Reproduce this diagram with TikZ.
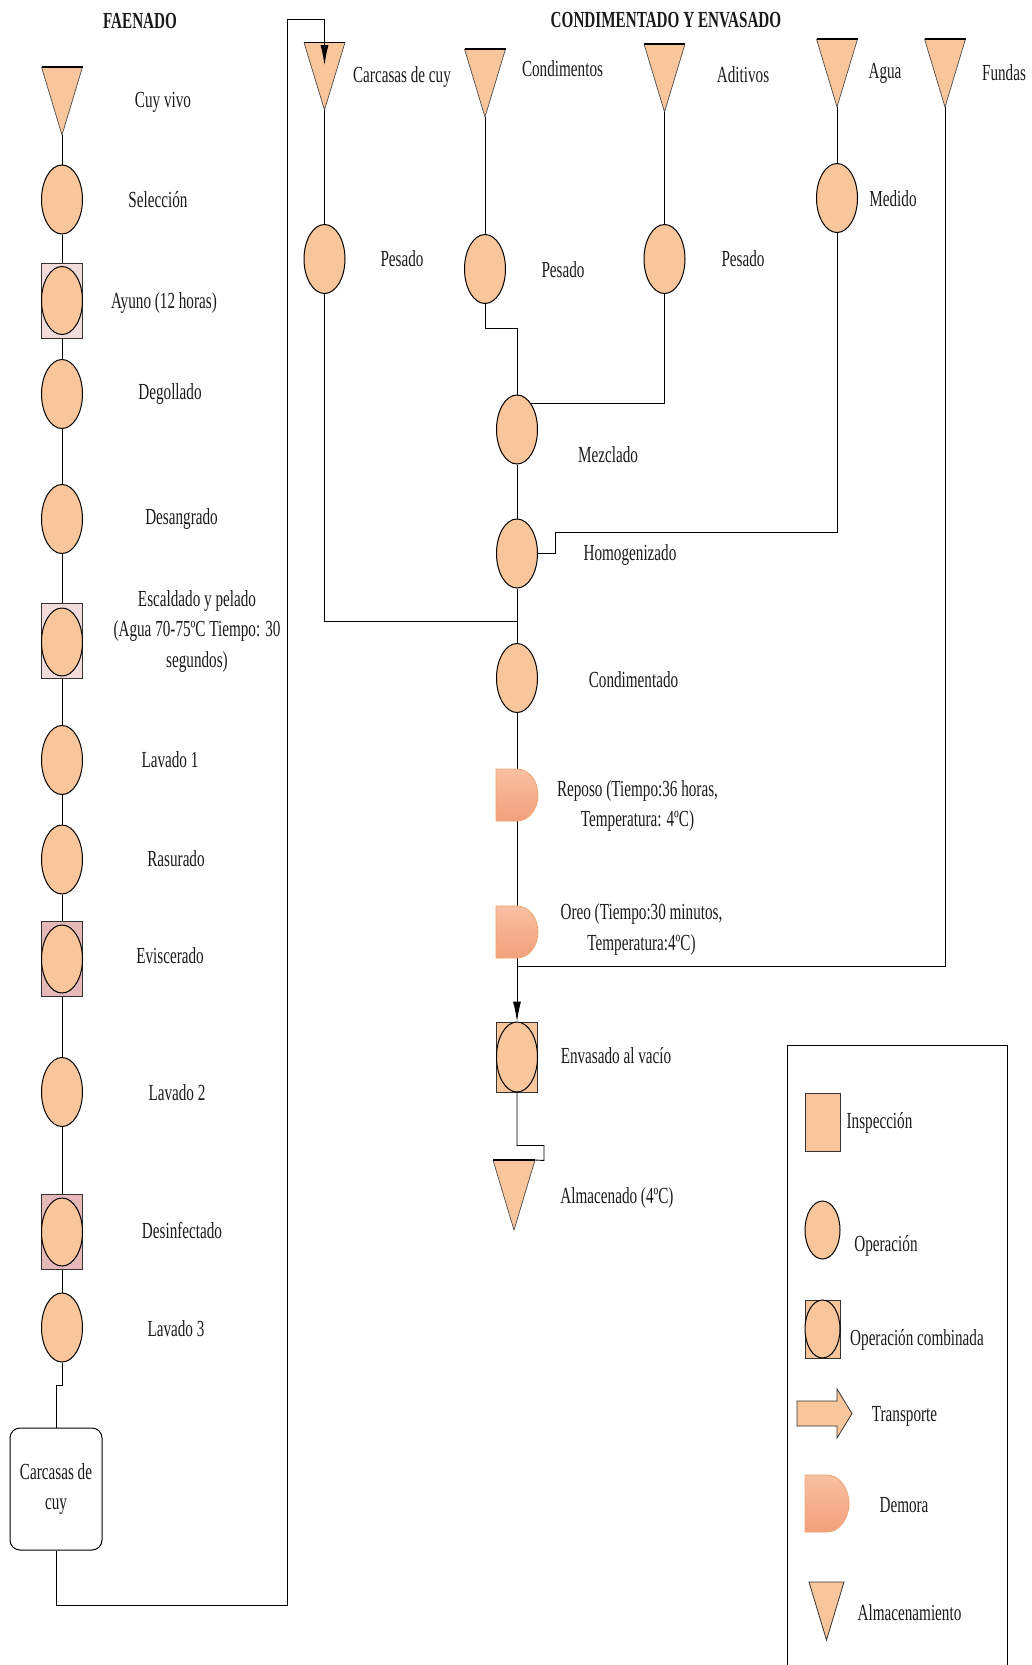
\documentclass[tikz,border=0pt]{standalone}
\usepackage{fontspec}
\setmainfont[FakeStretch=0.66]{Liberation Serif}
\usetikzlibrary{shapes.geometric,arrows.meta}
\definecolor{sal}{HTML}{F9C59A}
\definecolor{pinkA}{HTML}{F2DCDB}
\definecolor{pinkB}{HTML}{E6B8B7}
\definecolor{dtop}{HTML}{F7C0A2}
\definecolor{dbot}{HTML}{F3A07C}
\definecolor{dedge}{HTML}{F0A46E}
\definecolor{txt}{HTML}{1A1A1A}
\tikzset{
 op/.style={ellipse, draw=black, line width=1pt, fill=sal, minimum width=41pt, minimum height=69pt, inner sep=0pt},
 opin/.style={ellipse, draw=black, line width=1pt, fill=sal, minimum width=41pt, minimum height=68pt, inner sep=0pt},
 combo/.style={rectangle, draw=black!80, line width=0.9pt, minimum width=41pt, minimum height=75pt, inner sep=0pt},
 lbl/.style={text=txt, font=\fontsize{23}{30.5}\selectfont, inner sep=0pt, align=center},
 ttl/.style={text=txt, font=\fontsize{23}{28}\selectfont\bfseries, inner sep=0pt},
 conn/.style={draw=black, line width=0.9pt},
 arr/.style={conn, -{Latex[length=20pt,width=8pt]}},
 delayshape/.style={draw=dedge, line width=0.8pt, top color=dtop, bottom color=dbot},
 legrect/.style={rectangle, draw=black!80, line width=0.9pt, fill=sal, minimum width=35pt, minimum height=58pt, inner sep=0pt},
 legell/.style={ellipse, draw=black, line width=1pt, fill=sal, minimum width=35pt, minimum height=58pt, inner sep=0pt},
}
% name, cx, top, tip, halfwidth
\newcommand\mytri[5]{%
 \fill[sal] (#2-#5,#3) -- (#2+#5,#3) -- (#2,#4) -- cycle;
 \draw[black!70, line width=0.7pt] (#2-#5,#3) -- (#2,#4) -- (#2+#5,#3);
 \draw[black, line width=1.6pt] (#2-#5,#3) -- (#2+#5,#3);
 \coordinate (#1-tip) at (#2,#4);
 \coordinate (#1-top) at (#2,#3);
}
% left x, top  (42 wide, 52 high)
\newcommand\mydelay[2]{%
 \path[delayshape] (#1,#2) -- (#1+21,#2) .. controls (#1+32.6,#2) and (#1+42,#2+11.6) .. (#1+42,#2+26)
   .. controls (#1+42,#2+40.4) and (#1+32.6,#2+52) .. (#1+21,#2+52) -- (#1,#2+52) -- cycle;
}
\begin{document}
\begin{tikzpicture}[x=1pt,y=-1pt]
\useasboundingbox (0,0) rectangle (1031,1665);

% ---------- titles
\node[ttl] (t1) at (140,21) {FAENADO};
\node[ttl] (t2) at (666,20) {CONDIMENTADO Y ENVASADO};

% ---------- left column
\mytri{cuy}{62}{67}{135}{20.5}
\node[op] (sel) at (62,199.5) {};
\node[combo, fill=pinkA] (ayu) at (62,300.5) {};
\node[opin] (ayuE) at (62,300.5) {};
\node[op] (deg) at (62,394) {};
\node[op] (des) at (62,519) {};
\node[combo, fill=pinkA] (esc) at (62,641) {};
\node[opin] (escE) at (62,642) {};
\node[op] (lav1) at (62,760) {};
\node[op] (ras) at (62,859.5) {};
\node[combo, fill=pinkB] (evi) at (62,959) {};
\node[opin] (eviE) at (62,959) {};
\node[op] (lav2) at (62,1092) {};
\node[combo, fill=pinkB] (dsf) at (62,1232) {};
\node[opin] (dsfE) at (62,1232) {};
\node[op] (lav3) at (62,1327.5) {};
\node[lbl, draw=black, line width=1pt, rounded corners=10pt, minimum width=92pt, minimum height=122pt, fill=white] (box) at (56,1489) {Carcasas de\\cuy};

\node[lbl] (lcuy) at (163,102) {Cuy vivo};
\node[lbl] (lsel) at (158,200) {Selección};
\node[lbl] (layu) at (164,303) {Ayuno (12 horas)};
\node[lbl] (ldeg) at (170,394) {Degollado};
\node[lbl] (ldes) at (181.5,519) {Desangrado};
\node[lbl] (lesc) at (197,631) {Escaldado y pelado\\(Agua 70-75ºC Tiempo: 30\\segundos)};
\node[lbl] (llav1) at (170,760) {Lavado 1};
\node[lbl] (lras) at (176,859) {Rasurado};
\node[lbl] (levi) at (170,956) {Eviscerado};
\node[lbl] (llav2) at (177,1093) {Lavado 2};
\node[lbl] (ldsf) at (182,1230) {Desinfectado};
\node[lbl] (llav3) at (176,1329) {Lavado 3};

\draw[conn] (cuy-tip) -- (sel.north);
\draw[conn] (sel.south) -- (ayu.north);
\draw[conn] (ayu.south) -- (deg.north);
\draw[conn] (deg.south) -- (des.north);
\draw[conn] (des.south) -- (esc.north);
\draw[conn] (esc.south) -- (lav1.north);
\draw[conn] (lav1.south) -- (ras.north);
\draw[conn] (ras.south) -- (evi.north);
\draw[conn] (evi.south) -- (lav2.north);
\draw[conn] (lav2.south) -- (dsf.north);
\draw[conn] (dsf.south) -- (lav3.north);
\draw[conn] (lav3.south) -- ++(0,23) -| (box.north);

% ---------- right part: inputs
\mytri{carc}{324.5}{42.5}{110}{20.5}
\mytri{cond}{485}{49}{117}{20.5}
\mytri{adit}{664.5}{44}{112}{20.5}
\mytri{agua}{837}{39}{107}{20.5}
\mytri{fund}{945}{39}{107}{20.5}
\coordinate (carcin) at (324.5,65);
\coordinate (loopc) at (287,19);

\node[lbl] (lcarc) at (402,77) {Carcasas de cuy};
\node[lbl] (lcond) at (562.5,68.5) {Condimentos};
\node[lbl] (ladit) at (743,75) {Aditivos};
\node[lbl] (lagua) at (885,73.5) {Agua};
\node[lbl] (lfund) at (1004,73) {Fundas};

\node[op] (pes1) at (324.5,259) {};
\node[op] (pes2) at (485,269) {};
\node[op] (pes3) at (664.5,259) {};
\node[op] (med) at (837,198) {};
\node[op] (mez) at (517,429.5) {};
\node[op] (hom) at (517,553.5) {};
\node[op] (cdm) at (517,678) {};
\node[combo, fill=sal, minimum height=70pt] (env) at (517,1057) {};
\node[opin, minimum height=70pt] (envE) at (517,1057) {};
\mytri{alm}{514}{1160}{1230}{21}
\coordinate (almtr) at (535,1160);

\node[lbl] (lpes1) at (402,259) {Pesado};
\node[lbl] (lpes2) at (563,270) {Pesado};
\node[lbl] (lpes3) at (743,259) {Pesado};
\node[lbl] (lmed) at (893,199) {Medido};
\node[lbl] (lmez) at (608,455) {Mezclado};
\node[lbl] (lhom) at (630,554.5) {Homogenizado};
\node[lbl] (lcdm) at (633.5,680) {Condimentado};
\node[lbl] (lrep) at (637.5,806) {Reposo (Tiempo:36 horas,\\Temperatura: 4ºC)};
\node[lbl] (lore) at (641.5,929.5) {Oreo (Tiempo:30 minutos,\\Temperatura:4ºC)};
\node[lbl] (lenv) at (616,1056) {Envasado al vacío};
\node[lbl] (lalm) at (617,1198) {Almacenado (4ºC)};

\coordinate (j1) at (517,621);
\coordinate (hj) at (555,532);
\coordinate (j2) at (517,966);

\draw[arr] (box.south) -- ++(0,55) -| (loopc) -| (carcin);
\draw[conn] (carc-tip) -- (pes1.north);
\draw[conn] (pes1.south) |- (j1);
\draw[conn] (cond-tip) -- (pes2.north);
\draw[conn] (pes2.south) -- ++(0,24) -| (mez.north);
\draw[conn] (adit-tip) -- (pes3.north);
\draw[conn] (pes3.south) |- (mez.62);
\draw[conn] (agua-tip) -- (med.north);
\draw[conn] (med.south) |- (hj) |- (hom.east);
\draw[conn] (mez.south) -- (hom.north);
\draw[conn] (hom.south) -- (cdm.north);
\draw[arr] (cdm.south) -- (env.north);
\draw[conn] (fund-tip) |- (j2);
\draw[conn] (env.south) -- ++(0,53) -- ++(27,0) -- ++(0,15) -- (almtr);

\mydelay{496}{769}
\mydelay{496}{906}

% ---------- legend
\draw[black, line width=0.9pt] (787,1665) -- (787,1045) -- (1007,1045) -- (1007,1665);
\node[legrect] (gins) at (822.5,1122) {};
\node[legell] (gop) at (822.5,1230) {};
\node[legrect] (gcomb) at (822.5,1329) {};
\node[legell] (gcombE) at (822.5,1329) {};
\draw[black!80, line width=0.8pt, fill=sal] (797,1401) -- (837,1401) -- (837,1389) -- (852,1413.5) -- (837,1438) -- (837,1426) -- (797,1426) -- cycle;
\path[delayshape] (805,1475) -- (827,1475) .. controls (839,1475) and (849,1488) .. (849,1503.5)
   .. controls (849,1519) and (839,1532) .. (827,1532) -- (805,1532) -- cycle;
\draw[black!80, line width=0.8pt, fill=sal] (809,1582) -- (844,1582) -- (826.5,1640) -- cycle;

\node[lbl] (lgins) at (879.5,1123) {Inspección};
\node[lbl] (lgop) at (886,1246) {Operación};
\node[lbl] (lgcomb) at (917,1340) {Operación combinada};
\node[lbl] (lgtr) at (904.5,1416) {Transporte};
\node[lbl] (lgdem) at (904,1505) {Demora};
\node[lbl] (lgal) at (909.5,1613) {Almacenamiento};
\end{tikzpicture}
\end{document}
